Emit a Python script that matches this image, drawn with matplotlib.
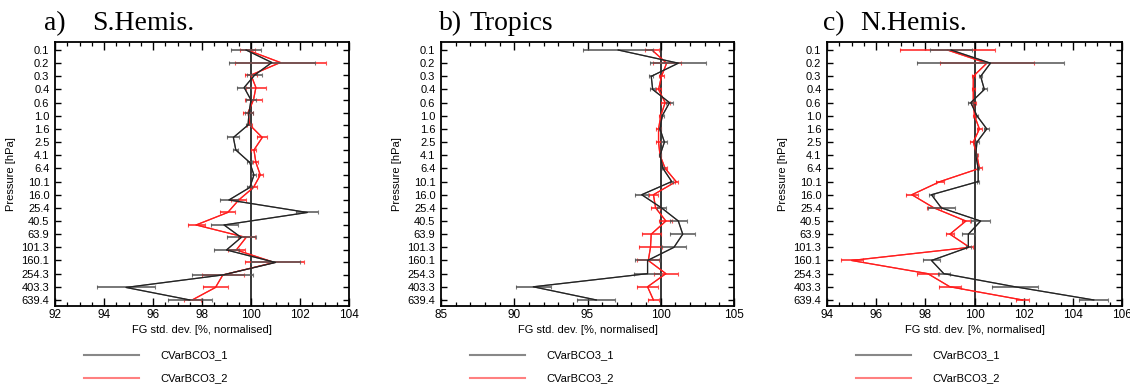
import matplotlib
matplotlib.use('Agg')
import matplotlib.pyplot as plt
import numpy as np
from matplotlib.lines import Line2D

# pressure level labels on the y axis
levels = ['0.1', '0.2', '0.3', '0.4', '0.6', '1.0', '1.6', '2.5', '4.1', '6.4',
          '10.1', '16.0', '25.4', '40.5', '63.9', '101.3', '160.1', '254.3', '403.3', '639.4']

# a) S.Hemis. (21 levels in this panel)
sh_exp1 = [99.8, 100.85, 100.15, 99.72, 100.0, 99.92, 99.88, 99.28, 99.38, 99.95, 100.12,
           99.95, 99.1, 102.3, 98.9, 99.6, 99.0, 101.0, 98.85, 94.9, 97.5]
sh_err1 = [0.6, 1.75, 0.3, 0.3, 0.2, 0.15, 0.1, 0.25, 0.1, 0.1, 0.1,
           0.1, 0.35, 0.45, 0.55, 0.6, 0.5, 1.0, 1.25, 1.2, 0.9]
sh_exp2 = [99.85, 101.2, 100.0, 100.2, 100.1, 99.88, 99.95, 100.46, 100.12, 100.2, 100.38,
           100.1, 99.5, 99.05, 97.76, 99.8, 99.4, 100.95, 98.85, 98.55, 97.6]
sh_err2 = [0.3, 1.85, 0.25, 0.4, 0.35, 0.2, 0.1, 0.2, 0.1, 0.1, 0.1,
           0.15, 0.3, 0.3, 0.35, 0.35, 0.35, 1.2, 0.85, 0.5, 0.35]

# b) Tropics
tr_exp1 = [97.1, 101.2, 99.35, 99.45, 100.6, 100.1, 99.95, 100.25, 99.95, 100.15,
           100.75, 98.7, 100.05, 101.2, 101.5, 100.9, 99.1, 99.1, 91.3, 95.6]
tr_err1 = [2.4, 1.9, 0.15, 0.15, 0.25, 0.1, 0.1, 0.2, 0.1, 0.05,
           0.1, 0.45, 0.3, 0.6, 0.85, 0.85, 0.85, 0.95, 1.2, 1.3]
tr_exp2 = [99.4, 100.4, 100.05, 99.85, 100.3, 100.0, 99.85, 99.85, 99.95, 100.3,
           101.05, 99.5, 99.65, 100.35, 99.35, 99.3, 99.15, 100.35, 99.1, 99.5]
tr_err2 = [0.45, 0.95, 0.15, 0.15, 0.3, 0.1, 0.15, 0.2, 0.1, 0.1,
           0.1, 0.3, 0.3, 0.45, 0.65, 0.8, 0.75, 0.8, 0.7, 0.4]

# c) N.Hemis.
nh_exp1 = [99.05, 100.65, 100.25, 100.4, 99.85, 100.1, 100.5, 100.1, 100.05, 100.15,
           100.15, 98.25, 98.65, 100.25, 99.75, 99.75, 98.25, 98.75, 101.65, 104.85]
nh_err1 = [0.85, 3.0, 0.05, 0.1, 0.1, 0.05, 0.1, 0.1, 0.05, 0.05,
           0.05, 0.1, 0.55, 0.4, 0.25, 0.1, 0.35, 0.25, 0.92, 0.6]
nh_exp2 = [98.9, 100.5, 99.95, 99.95, 99.95, 100.0, 100.2, 99.95, 100.1, 100.2,
           98.6, 97.45, 98.35, 99.65, 99.0, 99.8, 95.0, 98.1, 99.0, 101.95]
nh_err2 = [1.95, 1.9, 0.05, 0.05, 0.1, 0.05, 0.1, 0.12, 0.05, 0.1,
           0.15, 0.25, 0.3, 0.15, 0.15, 0.15, 0.45, 0.45, 0.45, 0.25]

series_names = ['CVarBCO3_1', 'CVarBCO3_2']

panels = [
    dict(tag='a)', name='S.Hemis.', x=(sh_exp1, sh_err1, sh_exp2, sh_err2),
         xlim=(92, 104), major=2, minor=0.5, rect=[55, 349], tag_x=44, name_x=92),
    dict(tag='b)', name='Tropics', x=(tr_exp1, tr_err1, tr_exp2, tr_err2),
         xlim=(85, 105), major=5, minor=1, rect=[441, 734], tag_x=439, name_x=470),
    dict(tag='c)', name='N.Hemis.', x=(nh_exp1, nh_err1, nh_exp2, nh_err2),
         xlim=(94, 106), major=2, minor=0.5, rect=[827, 1122], tag_x=823, name_x=860),
]

W, H = 1130, 388
fig = plt.figure(figsize=(W / 100, H / 100), dpi=100)
sans = 'Liberation Sans'
serif = 'Liberation Serif'

top_px, bot_px = 42, 306
nlev = len(levels)

for p in panels:
    l, r = p['rect']
    ax = fig.add_axes([l / W, (H - bot_px) / H, (r - l) / W, (bot_px - top_px) / H])
    e1, s1, e2, s2 = p['x']
    y1 = np.linspace(0, nlev - 1, len(e1))
    y2 = np.linspace(0, nlev - 1, len(e2))

    ax.axvline(100, color='black', lw=1.1, zorder=1)
    ax.errorbar(e1, y1, xerr=s1, color='#555555', lw=0.9, elinewidth=1.4,
                capsize=1.5, capthick=0.8, alpha=0.8, zorder=3)
    ax.plot(e1, y1, color='#222222', lw=0.9, zorder=4)
    ax.errorbar(e2, y2, xerr=s2, color='#ff2020', lw=0.9, elinewidth=1.4,
                capsize=1.5, capthick=0.8, alpha=0.8, zorder=2)
    ax.plot(e2, y2, color='#ff1010', lw=0.9, zorder=2)

    ax.set_xlim(*p['xlim'])
    ax.set_ylim(nlev - 1 + 0.46, -0.61)
    ax.set_xticks(np.arange(p['xlim'][0], p['xlim'][1] + 0.01, p['major']))
    ax.set_xticks(np.arange(p['xlim'][0], p['xlim'][1] + 0.01, p['minor']), minor=True)
    ax.set_xticklabels([f'{v:g}' for v in ax.get_xticks()], fontsize=8.5, family=sans)
    ax.set_yticks(np.arange(nlev))
    ax.set_yticklabels(levels, fontsize=8, family=sans)
    ax.tick_params(axis='x', which='major', direction='in', length=6, width=1.0,
                   top=True, pad=2)
    ax.tick_params(axis='x', which='minor', direction='in', length=3, width=0.9, top=True)
    ax.tick_params(axis='y', which='major', direction='in', length=4, width=1.0,
                   right=False, pad=4)
    for sp in ax.spines.values():
        sp.set_linewidth(1.3)

    # right hand ticks at the data levels
    ax2 = ax.twinx()
    ax2.set_ylim(ax.get_ylim())
    ax2.set_yticks(y1)
    ax2.tick_params(axis='y', direction='in', length=4, width=1.0, labelright=False)
    for sp in ax2.spines.values():
        sp.set_visible(False)

    ax.set_xlabel('FG std. dev. [%, normalised]', fontsize=8, family=sans, labelpad=3)
    ax.set_ylabel('Pressure [hPa]', fontsize=8, family=sans, labelpad=4)

    # panel title
    fig.text(p['tag_x'] / W, (H - 30) / H, p['tag'], fontsize=20, family=serif,
             va='baseline', ha='left')
    fig.text(p['name_x'] / W, (H - 30) / H, p['name'], fontsize=20,
             family=serif, va='baseline', ha='left')

    # legend below the panel
    lx = l + 29
    for yy, col, nm in zip([355, 378], ['#888888', '#ff8080'], series_names):
        fig.add_artist(Line2D([lx / W, (lx + 55) / W], [(H - yy) / H, (H - yy) / H],
                              color=col, lw=1.5, transform=fig.transFigure))
        fig.text((lx + 76) / W, (H - yy) / H, nm, fontsize=8, family=sans,
                 va='center', ha='left')

fig.savefig('out.png', dpi=100)
